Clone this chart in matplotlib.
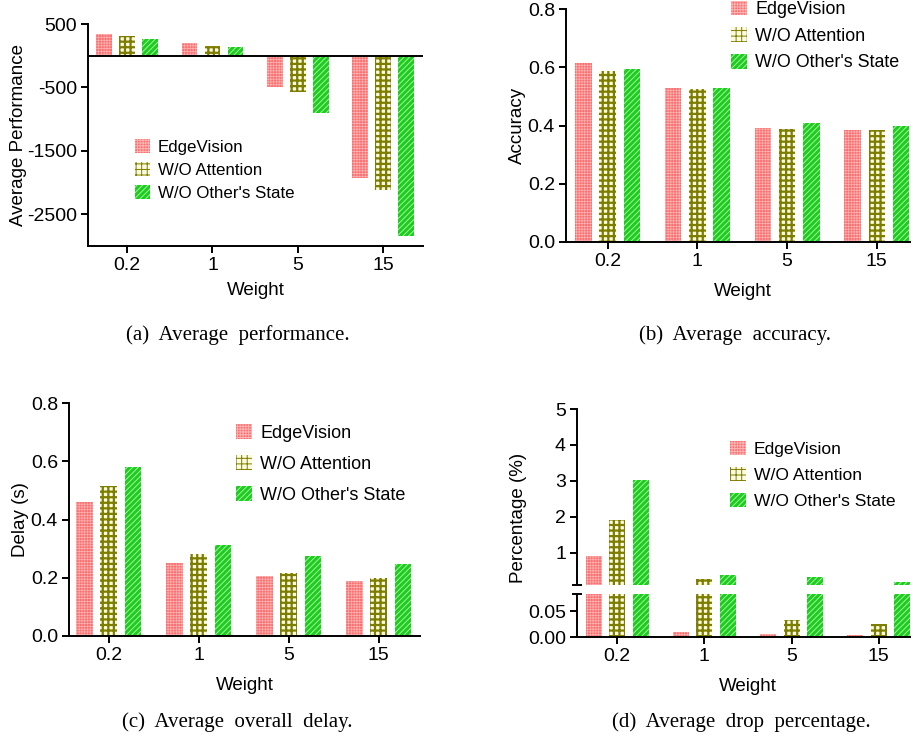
import numpy as np
import matplotlib
matplotlib.use('Agg')
import matplotlib.pyplot as plt
from matplotlib.patches import Patch

plt.rcParams['font.family'] = ['Liberation Sans', 'DejaVu Sans']
plt.rcParams['axes.unicode_minus'] = False

weights = ['0.2', '1', '5', '15']
series = ['EdgeVision', 'W/O Attention', "W/O Other's State"]

perf_edge = [350, 200, -500, -1930]
perf_att = [310, 150, -570, -2120]
perf_other = [260, 130, -900, -2840]

acc_edge = [0.616, 0.530, 0.392, 0.386]
acc_att = [0.588, 0.526, 0.389, 0.386]
acc_other = [0.595, 0.530, 0.410, 0.399]

delay_edge = [0.460, 0.251, 0.207, 0.190]
delay_att = [0.515, 0.282, 0.217, 0.200]
delay_other = [0.579, 0.313, 0.275, 0.248]

drop_edge = [0.92, 0.010, 0.005, 0.003]
drop_att = [1.91, 0.26, 0.033, 0.025]
drop_other = [3.01, 0.37, 0.31, 0.17]

# bar styles: face colour, hatch, hatch colour, hatch linewidth
styles = [
    dict(fc='#ff6e6e', hatch='++++++', ec='#ffb4b4', hlw=0.5),
    dict(fc='#fbfbe0', hatch='+++', ec='#7d7d00', hlw=1.6),
    dict(fc='#1ecc1e', hatch='//////', ec='#a0f5a0', hlw=0.7),
]
offsets = [-0.27, 0.0, 0.27]
bw = 0.185
x = np.arange(len(weights))
LW = 1.4


def style_patch(p, st):
    p.set_facecolor(st['fc'])
    p.set_edgecolor(st['ec'])
    p.set_hatch(st['hatch'])
    p.set_linewidth(0)
    try:
        p.set_hatch_linewidth(st['hlw'])
    except AttributeError:
        pass


def draw_bars(ax, data):
    for vals, st, off in zip(data, styles, offsets):
        plt.rcParams['hatch.linewidth'] = st['hlw']
        bars = ax.bar(x + off, vals, bw)
        for b in bars:
            style_patch(b, st)


def fmt_axes(ax, bottom=True):
    for s in ['top', 'right']:
        ax.spines[s].set_visible(False)
    ax.spines['left'].set_linewidth(LW)
    ax.spines['bottom'].set_linewidth(LW)
    ax.tick_params(axis='both', direction='out', length=5, width=LW,
                   labelsize=14, pad=3)
    ax.set_xticks(x)
    ax.set_xticklabels(weights)


def add_legend(ax, xpx, ypx, spacing, fs):
    handles = []
    for st, name in zip(styles, series):
        p = Patch(label=name)
        style_patch(p, st)
        handles.append(p)
    ax.legend(handles=handles, loc='center left',
              bbox_to_anchor=(xpx / W, 1 - ypx / H),
              bbox_transform=fig.transFigure, frameon=False,
              fontsize=fs, borderpad=0, borderaxespad=0,
              handlelength=0.9, handleheight=0.9, handletextpad=0.45,
              labelspacing=spacing)


W, H = 912, 741
fig = plt.figure(figsize=(W / 100, H / 100), dpi=100)


def axes_px(l, t, r, b):
    return fig.add_axes([l / W, 1 - b / H, (r - l) / W, (b - t) / H])


# (a) average performance
ax1 = axes_px(88, 24, 423, 246)
draw_bars(ax1, [perf_edge, perf_att, perf_other])
ax1.axhline(0, color='black', lw=LW)
ax1.set_ylim(-3000, 500)
ax1.set_yticks([500, -500, -1500, -2500])
ax1.set_xlim(-0.46, 3.47)
fmt_axes(ax1)
ax1.set_ylabel('Average Performance', fontsize=13.5, labelpad=0)
ax1.set_xlabel('Weight', fontsize=13.5, labelpad=6)
add_legend(ax1, 135, 170, 0.4, 12.2)

# (b) average accuracy
ax2 = axes_px(566, 9, 919, 242)
draw_bars(ax2, [acc_edge, acc_att, acc_other])
ax2.set_ylim(0, 0.8)
ax2.set_yticks([0.0, 0.2, 0.4, 0.6, 0.8])
ax2.set_yticklabels(['0.0', '0.2', '0.4', '0.6', '0.8'])
ax2.set_xlim(-0.465, 3.47)
fmt_axes(ax2)
ax2.set_ylabel('Accuracy', fontsize=13.5, labelpad=1)
ax2.set_xlabel('Weight', fontsize=13.5, labelpad=9)
add_legend(ax2, 731, 36, 0.5, 12.9)

# (c) average overall delay
ax3 = axes_px(69, 403, 420, 636)
draw_bars(ax3, [delay_edge, delay_att, delay_other])
ax3.set_ylim(0, 0.8)
ax3.set_yticks([0.0, 0.2, 0.4, 0.6, 0.8])
ax3.set_yticklabels(['0.0', '0.2', '0.4', '0.6', '0.8'])
ax3.set_xlim(-0.44, 3.46)
fmt_axes(ax3)
ax3.set_ylabel('Delay (s)', fontsize=13.5, labelpad=1)
ax3.set_xlabel('Weight', fontsize=13.5, labelpad=9)
add_legend(ax3, 236, 464, 0.72, 13)

# (d) average drop percentage, broken y axis
ax4u = axes_px(577, 409, 919, 585)
ax4l = axes_px(577, 594, 919, 637)
for ax in (ax4u, ax4l):
    draw_bars(ax, [drop_edge, drop_att, drop_other])
    ax.set_xlim(-0.46, 3.46)
    fmt_axes(ax)
ax4u.set_ylim(0.1, 5)
ax4u.set_yticks([1, 2, 3, 4, 5])
ax4u.spines['bottom'].set_visible(False)
ax4u.tick_params(axis='x', bottom=False, labelbottom=False)
ax4l.set_ylim(0, 0.083)
ax4l.set_yticks([0.0, 0.05])
ax4l.set_yticklabels(['0.00', '0.05'])
ax4l.set_xlabel('Weight', fontsize=13.5, labelpad=9)
cap = 4.0 / (919 - 577)
ax4u.plot([-cap, cap], [0, 0], transform=ax4u.transAxes, color='black',
          lw=LW, clip_on=False)
ax4l.plot([-cap, cap], [1, 1], transform=ax4l.transAxes, color='black',
          lw=LW, clip_on=False)
fig.text(519 / W, 1 - 518 / H, 'Percentage (%)', rotation=90,
         fontsize=13.5, ha='center', va='center')
add_legend(ax4u, 730, 475, 0.55, 12.6)

# captions
capfont = dict(family=['Liberation Serif', 'DejaVu Serif'], fontsize=15,
               ha='center', va='center')
fig.text(238 / W, 1 - 335 / H, '(a)  Average  performance.', **capfont)
fig.text(735 / W, 1 - 335 / H, '(b)  Average  accuracy.', **capfont)
fig.text(237 / W, 1 - 722 / H, '(c)  Average  overall  delay.', **capfont)
fig.text(741 / W, 1 - 722 / H, '(d)  Average  drop  percentage.', **capfont)

fig.savefig('out.png', dpi=100)
